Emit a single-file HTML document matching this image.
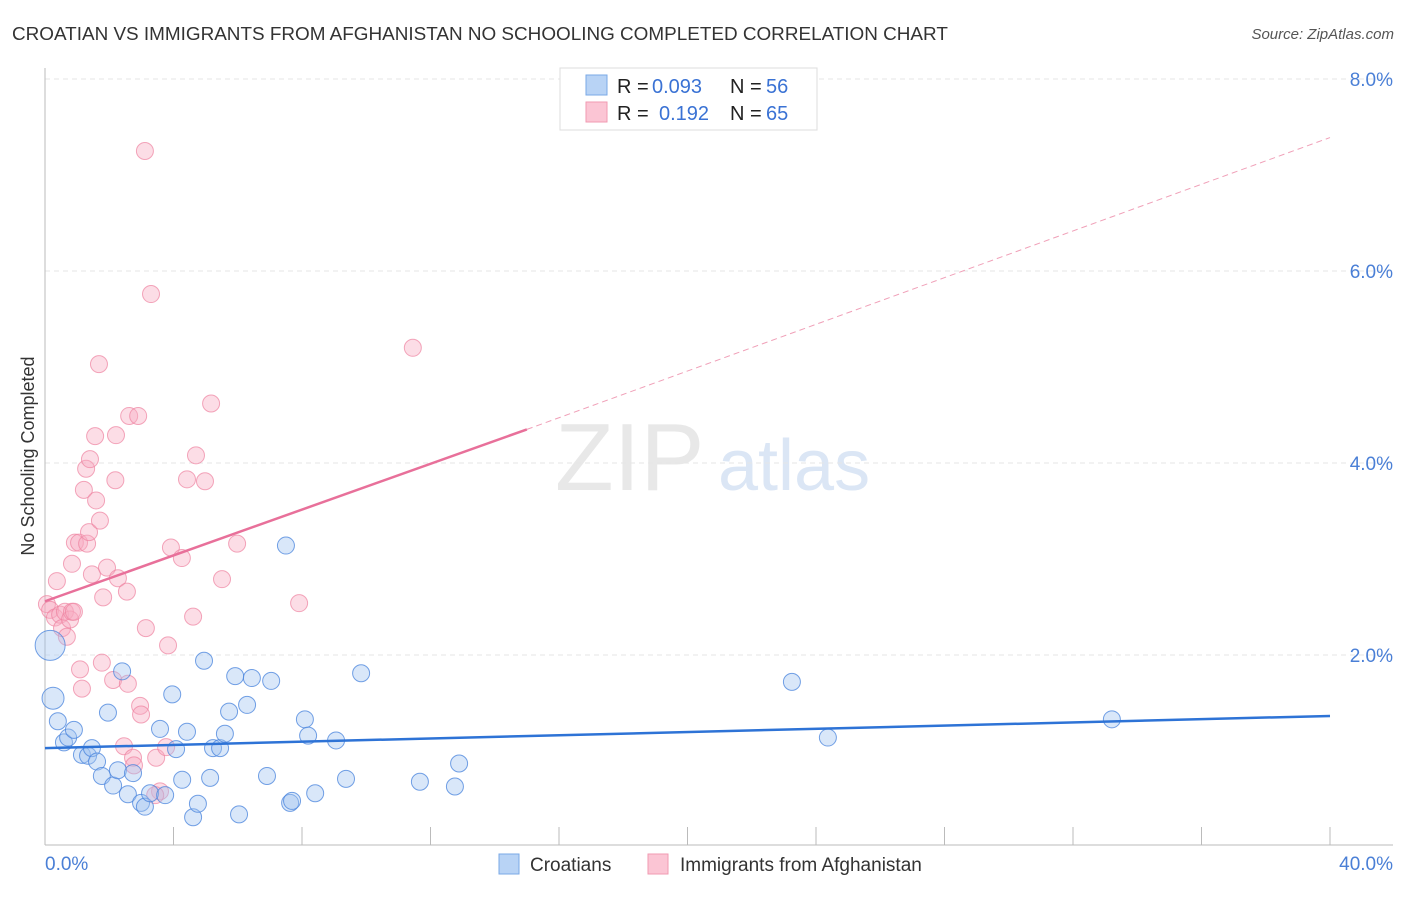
<!DOCTYPE html>
<html><head><meta charset="utf-8"><style>
body{margin:0;background:#fff;font-family:"Liberation Sans",sans-serif}
svg text{font-family:"Liberation Sans",sans-serif}
</style></head><body>
<svg id="chart" width="1406" height="892">
<text x="12" y="40" font-size="18.9" fill="#333">CROATIAN VS IMMIGRANTS FROM AFGHANISTAN NO SCHOOLING COMPLETED CORRELATION CHART</text>
<text x="1394" y="39" font-size="15" fill="#555" font-style="italic" text-anchor="end">Source: ZipAtlas.com</text>
<text x="34" y="456" font-size="18" fill="#333" text-anchor="middle" transform="rotate(-90 34 456)">No Schooling Completed</text>
<text x="555" y="490" font-size="96" fill="#e8e8e8" font-family="Liberation Serif">ZIP</text>
<text x="718" y="490" font-size="72" fill="#dbe6f5">atlas</text>
<g id="grid"></g><g id="axes"></g><g id="pts"></g><g id="lines"></g>
<g>
<rect x="560" y="68" width="257" height="62" fill="#fff" stroke="#ddd"/>
<rect x="586" y="75" width="21" height="20" fill="#b8d3f5" stroke="#7aa8e6"/>
<rect x="586" y="102" width="21" height="20" fill="#fbc5d4" stroke="#f09ab2"/>
<text x="617" y="93" font-size="20" fill="#222">R =</text>
<text x="652" y="93" font-size="20" fill="#3a72d4">0.093</text>
<text x="730" y="93" font-size="20" fill="#222">N =</text>
<text x="766" y="93" font-size="20" fill="#3a72d4">56</text>
<text x="617" y="120" font-size="20" fill="#222">R =</text>
<text x="659" y="120" font-size="20" fill="#3a72d4">0.192</text>
<text x="730" y="120" font-size="20" fill="#222">N =</text>
<text x="766" y="120" font-size="20" fill="#3a72d4">65</text>
</g>
<g>
<rect x="499" y="854" width="20" height="20" fill="#b8d3f5" stroke="#7aa8e6"/>
<text x="530" y="871" font-size="19" fill="#333">Croatians</text>
<rect x="648" y="854" width="20" height="20" fill="#fbc5d4" stroke="#f09ab2"/>
<text x="680" y="871" font-size="19" fill="#333">Immigrants from Afghanistan</text>
</g>
</svg>
<script>
const blueX=[0.16,0.25,0.4,0.59,0.72,0.9,1.15,1.34,1.46,1.62,1.77,1.96,2.12,2.27,2.40,2.58,2.74,2.99,3.11,3.27,3.58,3.74,3.96,4.08,4.27,4.42,4.61,4.76,4.95,5.14,5.23,5.45,5.60,5.73,5.92,6.04,6.29,6.44,6.91,7.04,7.50,7.63,7.69,8.09,8.19,8.41,9.06,9.37,9.84,11.67,12.76,12.89,23.25,24.37,33.21];
const blueY=[2.10,1.55,1.31,1.09,1.14,1.22,0.96,0.95,1.03,0.89,0.74,1.40,0.64,0.80,1.83,0.55,0.77,0.46,0.42,0.56,1.23,0.54,1.59,1.02,0.70,1.20,0.31,0.45,1.94,0.72,1.03,1.03,1.18,1.41,1.78,0.34,1.48,1.76,0.74,1.73,3.14,0.46,0.48,1.33,1.16,0.56,1.11,0.71,1.81,0.68,0.63,0.87,1.72,1.14,1.33];
const pinkX=[0.06,0.16,0.31,0.47,0.53,0.62,0.68,0.78,0.84,0.90,0.37,0.84,0.93,1.06,1.09,1.15,1.21,1.28,1.31,1.37,1.40,1.46,1.56,1.59,1.68,1.71,1.77,1.81,1.93,2.12,2.19,2.21,2.27,2.46,2.55,2.58,2.62,2.74,2.77,2.90,2.96,2.99,3.11,3.14,3.30,3.46,3.58,3.77,3.83,3.92,4.26,4.42,4.61,4.70,4.98,5.17,5.51,5.98,7.91,11.45,3.43];
const pinkY=[2.53,2.47,2.39,2.42,2.28,2.45,2.19,2.37,2.45,2.45,2.77,2.95,3.17,3.17,1.85,1.65,3.72,3.94,3.16,3.28,4.04,2.84,4.28,3.61,5.03,3.40,1.92,2.60,2.91,1.74,3.82,4.29,2.80,1.05,2.66,1.70,4.49,0.93,0.85,4.49,1.47,1.38,7.25,2.28,5.76,0.93,0.58,1.04,2.10,3.12,3.01,3.83,2.40,4.08,3.81,4.62,2.79,3.16,2.54,5.20,0.54];
const yTicks=[2,4,6,8];
const X0=45,X1=1330,Y0=847,PY=96;
const sx=v=>X0+(v/40)*(X1-X0), sy=v=>Y0-v*PY;
const NS="http://www.w3.org/2000/svg";
function mk(p,t,a){const e=document.createElementNS(NS,t);for(const k in a)e.setAttribute(k,a[k]);p.appendChild(e);return e;}
const grid=document.getElementById('grid'),axes=document.getElementById('axes');
yTicks.forEach(t=>{
 const l=mk(grid,'line',{x1:45,x2:1393,y1:sy(t),y2:sy(t),stroke:'#e6e6e6','stroke-dasharray':'5,4'});
 
 
 const tx=mk(axes,'text',{x:1393,y:sy(t)+7,'font-size':19,fill:'#4a7fd6','text-anchor':'end'});
 tx.textContent=t.toFixed(1)+'%';
 
 
});
const xa=mk(axes,'line',{x1:45,x2:1393,y1:845,y2:845,stroke:'#bbb'});


const ya=mk(axes,'line',{x1:45,x2:45,y1:68,y2:845,stroke:'#bbb'});


for(let i=1;i<=10;i++){const x=sx(i*4);const tk=mk(axes,'line',{x1:x,x2:x,y1:827,y2:845,stroke:'#bbb'});
 
 }
[[0,'0.0%','start',45],[40,'40.0%','end',1393]].forEach(d=>{const t=mk(axes,'text',{x:d[3],y:870,'font-size':19,fill:'#4a7fd6','text-anchor':d[2]});t.textContent=d[1];
 
 });
const pts=document.getElementById('pts');
pinkX.forEach((x,i)=>{const c=mk(pts,'circle',{cx:sx(x),cy:sy(pinkY[i]),r:8.5,fill:'rgba(248,170,192,0.4)',stroke:'rgba(238,130,160,0.7)'});
 
 });
blueX.forEach((x,i)=>{const c=mk(pts,'circle',{cx:sx(x),cy:sy(blueY[i]),r:i<2?(i==0?15:11):8.5,fill:'rgba(160,196,240,0.4)',stroke:'rgba(70,130,220,0.75)'});
 
 });
const lines=document.getElementById('lines');
const bl=mk(lines,'line',{x1:sx(0),y1:sy(1.03),x2:sx(40),y2:sy(1.365),stroke:'#2e73d6','stroke-width':2.5});


const pl=mk(lines,'line',{x1:sx(0),y1:sy(2.56),x2:sx(15),y2:sy(4.35),stroke:'#e8709a','stroke-width':2.5});


const pd=mk(lines,'line',{x1:sx(15),y1:sy(4.35),x2:sx(40),y2:sy(7.39),stroke:'#f0a0b8','stroke-width':1,'stroke-dasharray':'6,4'});


</script>
</body></html>
